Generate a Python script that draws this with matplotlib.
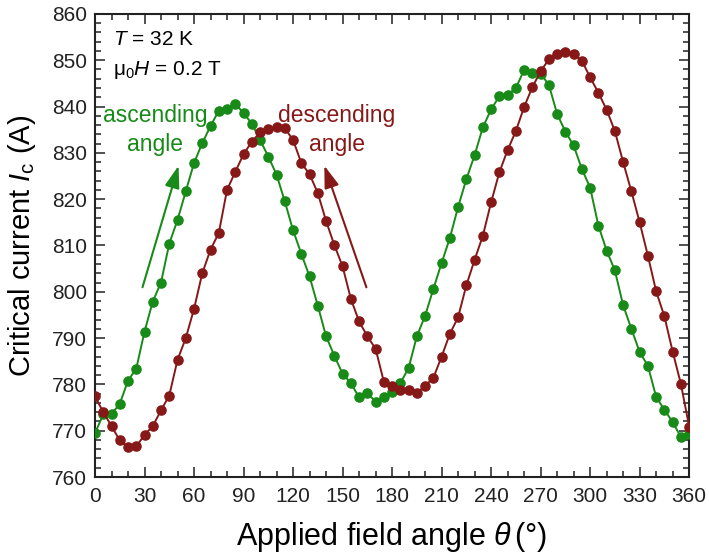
"""Critical current vs applied field angle, ascending / descending sweep."""
import matplotlib
matplotlib.use("Agg")
import matplotlib.pyplot as plt
from matplotlib.ticker import MultipleLocator

plt.rcParams.update({
    "font.family": "sans-serif",
    "font.sans-serif": ["Liberation Sans", "DejaVu Sans"],
    "mathtext.fontset": "custom",
    "mathtext.rm": "Liberation Sans",
    "mathtext.it": "Liberation Sans:italic",
    "font.size": 15,
})

GREEN = "#178a17"
RED = "#861818"

angle = list(range(0, 365, 5))

ic_ascending = [
    769.5, 773.5, 773.6, 775.8, 780.8, 783.4, 791.4, 797.9, 802.0, 810.4,
    815.5, 821.7, 827.8, 832.1, 835.8, 839.1, 839.4, 840.6, 838.6, 836.3,
    832.8, 829.2, 825.3, 819.5, 813.3, 808.2, 803.3, 797.0, 790.4, 786.2,
    782.3, 780.3, 777.2, 778.1, 776.3, 777.2, 778.3, 780.3, 783.5, 790.4,
    794.8, 800.6, 806.2, 811.6, 818.3, 824.3, 829.5, 835.5, 839.4, 842.2,
    842.5, 844.0, 847.9, 847.2, 847.1, 844.7, 838.4, 834.6, 831.6, 826.5,
    822.5, 814.3, 808.9, 804.6, 797.1, 792.0, 787.0, 784.0, 777.3, 774.5,
    771.9, 768.6, 769.3,
]

ic_descending = [
    777.4, 774.0, 771.0, 767.9, 766.5, 766.6, 769.1, 771.0, 774.4, 777.6,
    785.3, 790.0, 796.3, 804.0, 809.1, 812.7, 822.0, 825.9, 829.7, 832.4,
    834.4, 835.2, 835.5, 835.3, 832.8, 827.8, 825.4, 821.3, 815.3, 810.1,
    805.5, 798.5, 793.6, 790.4, 787.7, 780.6, 779.6, 778.7, 778.7, 778.1,
    779.7, 781.4, 786.0, 790.9, 794.5, 801.4, 806.9, 812.1, 819.3, 825.8,
    830.6, 834.7, 839.9, 844.2, 847.6, 850.2, 851.4, 851.7, 851.4, 849.9,
    846.3, 843.0, 839.3, 834.7, 828.0, 821.7, 815.0, 807.8, 800.1, 794.7,
    787.1, 780.1, 770.9,
]

fig = plt.figure(figsize=(7.09, 5.57), dpi=100)
ax = fig.add_axes([0.134, 0.1436, 0.838, 0.8314])

ax.plot(angle, ic_ascending, "-o", color=GREEN, lw=1.4, ms=6.6, zorder=3)
ax.plot(angle, ic_descending, "-o", color=RED, lw=1.4, ms=6.6, zorder=3)

ax.set_xlim(0, 360)
ax.set_ylim(760, 860)
ax.xaxis.set_major_locator(MultipleLocator(30))
ax.xaxis.set_minor_locator(MultipleLocator(10))
ax.yaxis.set_major_locator(MultipleLocator(10))
ax.yaxis.set_minor_locator(MultipleLocator(2))
ax.tick_params(which="both", direction="in", top=True, right=True,
               labelsize=15, width=1.1, colors="#222222")
ax.tick_params(which="major", length=7.2)
ax.tick_params(which="minor", length=4)
ax.tick_params(axis="x", pad=7)
ax.tick_params(axis="y", pad=5.5)
for sp in ax.spines.values():
    sp.set_linewidth(1.5)
    sp.set_color("#222222")

ax.set_xlabel(r"Applied field angle $\mathit{\theta}\,$(°)", fontsize=22, labelpad=10)
ax.set_ylabel(r"Critical current $\mathit{I}_{\mathrm{c}}$ (A)", fontsize=21, labelpad=10)

ax.text(11, 853.3, r"$\mathit{T}$ = 32 K", fontsize=15, va="baseline", ha="left")
ax.text(11, 846.8, r"$\mathrm{\mu_0}\mathit{H}$ = 0.2 T", fontsize=15, va="baseline", ha="left")

ax.text(36.4, 836.7, "ascending", color=GREEN, fontsize=16.5, ha="center", va="baseline")
ax.text(36.4, 830.3, "angle", color=GREEN, fontsize=16.5, ha="center", va="baseline")
ax.text(146.5, 836.7, "descending", color=RED, fontsize=16.5, ha="center", va="baseline")
ax.text(146.5, 830.3, "angle", color=RED, fontsize=16.5, ha="center", va="baseline")

ax.annotate("", xy=(51.1, 827.8), xytext=(28.3, 800.4),
            arrowprops=dict(arrowstyle="-|>,head_length=0.9,head_width=0.3",
                            color=GREEN, lw=1.5))
ax.annotate("", xy=(138.4, 827.8), xytext=(165.0, 800.4),
            arrowprops=dict(arrowstyle="-|>,head_length=0.9,head_width=0.3",
                            color=RED, lw=1.5))

fig.savefig("out.png", dpi=100, facecolor="white")
plt.close(fig)
